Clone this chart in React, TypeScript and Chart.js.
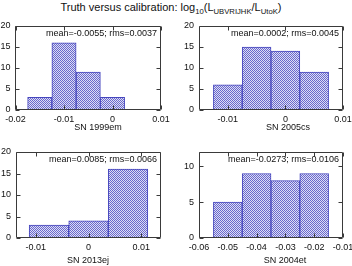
import React, { useEffect, useRef } from "react";
import { Chart, registerables } from "chart.js";

Chart.register(...registerables);

// ---------- data ----------
const p1Centers = [-0.015, -0.01, -0.005, 0];
const p1Counts = [3, 16, 9, 3];
const p1XRange = [-0.02, 0.01];
const p1XTicks = [-0.02, -0.01, 0, 0.01];
const p1YRange = [0, 20];
const p1YTicks = [0, 5, 10, 15, 20];
const p1Label = "SN 1999em";
const p1Stats = "mean=-0.0055; rms=0.0037";

const p2Centers = [-0.01, -0.005, 0, 0.005];
const p2Counts = [6, 15, 14, 9];
const p2XRange = [-0.015, 0.01];
const p2XTicks = [-0.01, 0, 0.01];
const p2YRange = [0, 20];
const p2YTicks = [0, 5, 10, 15, 20];
const p2Label = "SN 2005cs";
const p2Stats = "mean=0.0002; rms=0.0045";

const p3Centers = [-0.0075, 0, 0.0075];
const p3Counts = [3, 4, 16];
const p3XRange = [-0.01375, 0.01375];
const p3XTicks = [-0.01, 0, 0.01];
const p3YRange = [0, 20];
const p3YTicks = [0, 5, 10, 15, 20];
const p3Label = "SN 2013ej";
const p3Stats = "mean=0.0085; rms=0.0066";

const p4Centers = [-0.05, -0.04, -0.03, -0.02];
const p4Counts = [5, 9, 8, 9];
const p4XRange = [-0.06, -0.01];
const p4XTicks = [-0.06, -0.05, -0.04, -0.03, -0.02, -0.01];
const p4YRange = [0, 12];
const p4YTicks = [0, 5, 10];
const p4Label = "SN 2004et";
const p4Stats = "mean=-0.0273; rms=0.0106";

// ---------- layout ----------
const panels = [
  { centers: p1Centers, counts: p1Counts, xr: p1XRange, xt: p1XTicks, yr: p1YRange, yt: p1YTicks, label: p1Label, stats: p1Stats,
    left: 0, top: 18, w: 176, h: 122, yW: 15.5, xH: 30, pad: { top: 8, right: 15, left: 0, bottom: 0 }, lx: 98, ly: 128 },
  { centers: p2Centers, counts: p2Counts, xr: p2XRange, xt: p2XTicks, yr: p2YRange, yt: p2YTicks, label: p2Label, stats: p2Stats,
    left: 176, top: 18, w: 176, h: 122, yW: 23, xH: 30, pad: { top: 8, right: 9, left: 0, bottom: 0 }, lx: 288, ly: 128 },
  { centers: p3Centers, counts: p3Counts, xr: p3XRange, xt: p3XTicks, yr: p3YRange, yt: p3YTicks, label: p3Label, stats: p3Stats,
    left: 0, top: 140, w: 176, h: 126, yW: 16, xH: 28, pad: { top: 12, right: 15, left: 0, bottom: 0 }, lx: 88, ly: 261 },
  { centers: p4Centers, counts: p4Counts, xr: p4XRange, xt: p4XTicks, yr: p4YRange, yt: p4YTicks, label: p4Label, stats: p4Stats,
    left: 176, top: 140, w: 176, h: 126, yW: 23, xH: 28, pad: { top: 12, right: 9, left: 0, bottom: 0 }, lx: 285, ly: 261 },
];

const FONT = "Liberation Sans";

function makePattern(): CanvasPattern | string {
  const c = document.createElement("canvas");
  c.width = 4;
  c.height = 4;
  const g = c.getContext("2d");
  if (!g) return "rgba(120,120,210,0.6)";
  g.fillStyle = "rgb(222,222,244)";
  g.fillRect(0, 0, 4, 4);
  g.fillStyle = "rgb(105,105,205)";
  for (let x = 0; x < 4; x++) {
    for (let y = 0; y < 4; y++) {
      if ((x + y) % 2 === 0) g.fillRect(x, y, 1, 1);
    }
  }
  const p = g.createPattern(c, "repeat");
  return p || "rgba(120,120,210,0.6)";
}

const fmt = (v: number) => {
  const r = Number(v.toFixed(4));
  return r === 0 ? "0" : String(r);
};

const decor = {
  id: "decor",
  afterDraw(chart: any) {
    const o = chart.options.plugins.decor;
    const { ctx, chartArea: a } = chart;
    const x = chart.scales.x;
    const y = chart.scales.y;
    const L = Math.floor(a.left) + 0.5;
    const R = Math.floor(a.right) - 0.5;
    const T = Math.floor(a.top) + 0.5;
    const B = Math.floor(a.bottom) - 0.5;
    ctx.save();
    ctx.strokeStyle = "#3a3a3a";
    ctx.lineWidth = 1;
    ctx.beginPath();
    ctx.rect(L, T, R - L, B - T);
    ctx.stroke();
    const tl = 4;
    ctx.beginPath();
    for (const v of o.xt) {
      const px = Math.round(x.getPixelForValue(v)) + 0.5;
      ctx.moveTo(px, B);
      ctx.lineTo(px, B - tl);
      ctx.moveTo(px, T);
      ctx.lineTo(px, T + tl);
    }
    for (const v of o.yt) {
      const py = Math.round(y.getPixelForValue(v)) + 0.5;
      ctx.moveTo(L, py);
      ctx.lineTo(L + tl, py);
      ctx.moveTo(R, py);
      ctx.lineTo(R - tl, py);
    }
    ctx.stroke();
    ctx.fillStyle = "#111";
    ctx.font = `9px "${FONT}"`;
    ctx.textAlign = "right";
    ctx.textBaseline = "middle";
    ctx.fillText(o.stats, a.right - 4, a.top + 7.5);
    ctx.textAlign = "center";
    ctx.fillText(o.label, o.lx, o.ly);
    ctx.restore();
  },
};

function Panel({ p }: { p: (typeof panels)[number] }) {
  const ref = useRef<HTMLCanvasElement>(null);
  useEffect(() => {
    if (!ref.current) return;
    const pattern = makePattern();
    const chart = new Chart(ref.current, {
      type: "bar",
      data: {
        datasets: [
          {
            data: p.centers.map((c, i) => ({ x: c, y: p.counts[i] })),
            backgroundColor: pattern as any,
            borderColor: "rgb(70,70,190)",
            borderWidth: 1,
            barPercentage: 1,
            categoryPercentage: 1,
          },
        ],
      },
      options: {
        animation: false,
        responsive: false,
        devicePixelRatio: 1,
        layout: { padding: p.pad },
        plugins: {
          legend: { display: false },
          tooltip: { enabled: false },
          decor: { xt: p.xt, yt: p.yt, stats: p.stats, label: p.label, lx: p.lx - p.left, ly: p.ly - p.top },
        } as any,
        scales: {
          x: {
            type: "linear",
            offset: false,
            min: p.xr[0],
            max: p.xr[1],
            grid: { display: false, drawTicks: false },
            border: { display: false },
            afterBuildTicks: (s: any) => {
              s.ticks = p.xt.map((v) => ({ value: v }));
            },
            afterFit: (s: any) => {
              s.height = p.xH;
              s.paddingLeft = 0;
              s.paddingRight = 0;
            },
            ticks: {
              maxRotation: 0,
              minRotation: 0,
              autoSkip: false,
              padding: 4,
              color: "#111",
              font: { family: FONT, size: 9 },
              callback: (v: any) => fmt(Number(v)),
            },
          },
          y: {
            type: "linear",
            min: p.yr[0],
            max: p.yr[1],
            grid: { display: false, drawTicks: false },
            border: { display: false },
            afterBuildTicks: (s: any) => {
              s.ticks = p.yt.map((v) => ({ value: v }));
            },
            afterFit: (s: any) => {
              s.width = p.yW;
              s.paddingTop = 0;
              s.paddingBottom = 0;
            },
            ticks: {
              padding: 5,
              color: "#111",
              font: { family: FONT, size: 9 },
              callback: (v: any) => fmt(Number(v)),
            },
          },
        },
      },
      plugins: [decor as any],
    });
    return () => chart.destroy();
  }, [p]);
  return (
    <canvas
      ref={ref}
      width={p.w}
      height={p.h}
      style={{ position: "absolute", left: p.left, top: p.top, width: p.w, height: p.h }}
    />
  );
}

export default function App() {
  const sub: React.CSSProperties = { fontSize: "7.7px", position: "relative", top: "3px", verticalAlign: "baseline" };
  return (
    <div style={{ position: "fixed", left: 0, top: 0, width: 352, height: 266, background: "#fff", overflow: "hidden" }}>
      <div
        style={{
          position: "absolute",
          left: 0,
          top: 1,
          width: 342,
          textAlign: "center",
          fontFamily: FONT,
          fontSize: "11px",
          lineHeight: "13px",
          color: "#111",
          whiteSpace: "nowrap",
        }}
      >
        Truth versus calibration: log<span style={sub}>10</span>(L<span style={sub}>UBVRIJHK</span>/L<span style={sub}>UtoK</span>)
      </div>
      {panels.map((p, i) => (
        <Panel key={i} p={p} />
      ))}
    </div>
  );
}
